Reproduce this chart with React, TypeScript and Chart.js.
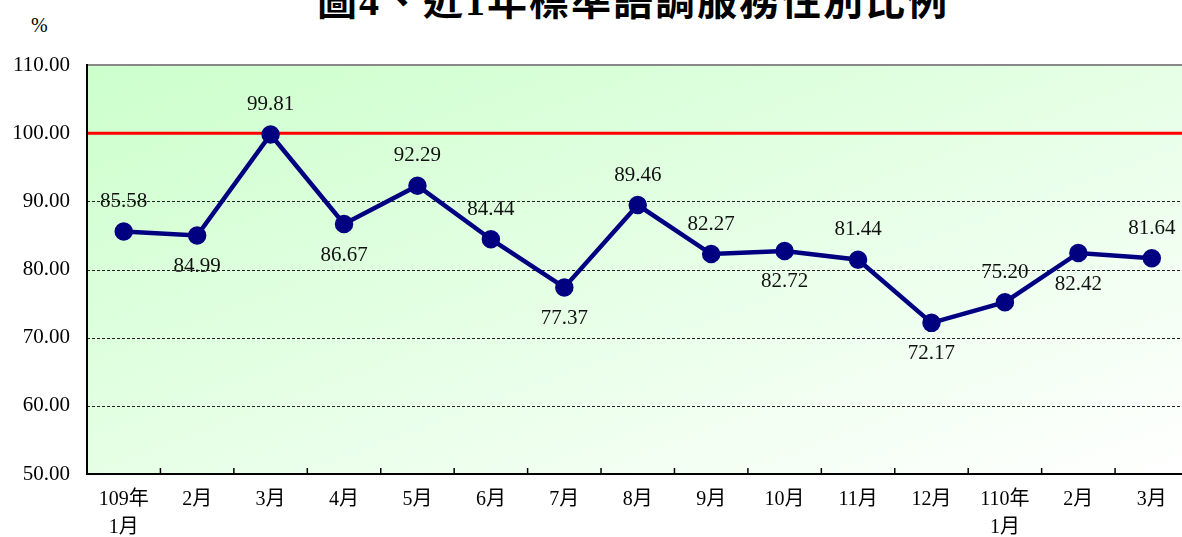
import React, { useEffect, useRef } from "react";
import { Chart, registerables } from "chart.js";

Chart.register(...registerables);

const TITLE = "圖4、近1年標準語調服務性別比例";
const UNIT = "%";
const categories: (string | string[])[] = [
  ["109年", "1月"], "2月", "3月", "4月", "5月", "6月", "7月", "8月",
  "9月", "10月", "11月", "12月", ["110年", "1月"], "2月", "3月",
];
const values = [85.58, 84.99, 99.81, 86.67, 92.29, 84.44, 77.37, 89.46, 82.27, 82.72, 81.44, 72.17, 75.2, 82.42, 81.64];
const labelAbove = [true, false, true, false, true, true, false, true, true, false, true, false, true, false, true];
const dashedLines = [60, 70, 80, 90];
const targetLine = 100;
const yMin = 50;
const yMax = 110;
const yStep = 10;

const FONT = "'Liberation Serif', 'Times New Roman', 'Noto Sans CJK TC', serif";

const decorPlugin = {
  id: "decor",
  beforeDraw(chart: any) {
    const { ctx, chartArea: a } = chart;
    const w = a.right - a.left;
    const h = a.bottom - a.top;
    const t = (2 * w * h) / (w * w + h * h);
    const g = ctx.createLinearGradient(a.left, a.top, a.left + h * t, a.top + w * t);
    g.addColorStop(0, "#ccffcc");
    g.addColorStop(1, "#ffffff");
    ctx.save();
    ctx.fillStyle = g;
    ctx.fillRect(a.left, a.top, w, h);
    ctx.restore();
  },
  beforeDatasetsDraw(chart: any) {
    const { ctx, chartArea: a, scales } = chart;
    const y = scales.y;
    const x = scales.x;
    ctx.save();
    ctx.strokeStyle = "#222";
    ctx.lineWidth = 1;
    ctx.setLineDash([3, 2]);
    dashedLines.forEach((v) => {
      const py = Math.round(y.getPixelForValue(v)) + 0.5;
      ctx.beginPath();
      ctx.moveTo(a.left, py);
      ctx.lineTo(a.right, py);
      ctx.stroke();
    });
    ctx.setLineDash([]);
    ctx.strokeStyle = "#ff0000";
    ctx.lineWidth = 3;
    const ty = y.getPixelForValue(targetLine);
    ctx.beginPath();
    ctx.moveTo(a.left, ty);
    ctx.lineTo(a.right, ty);
    ctx.stroke();
    ctx.strokeStyle = "#888";
    ctx.lineWidth = 2;
    const topY = y.getPixelForValue(yMax);
    ctx.beginPath();
    ctx.moveTo(a.left, topY);
    ctx.lineTo(a.right, topY);
    ctx.stroke();
    ctx.strokeStyle = "#000";
    ctx.lineWidth = 2;
    const botY = y.getPixelForValue(yMin);
    ctx.beginPath();
    ctx.moveTo(a.left, topY - 1);
    ctx.lineTo(a.left, botY);
    ctx.lineTo(a.right, botY);
    ctx.stroke();
    ctx.lineWidth = 1.5;
    for (let i = 0; i < categories.length - 1; i++) {
      const px = (x.getPixelForValue(i) + x.getPixelForValue(i + 1)) / 2;
      ctx.beginPath();
      ctx.moveTo(px, botY);
      ctx.lineTo(px, botY - 6);
      ctx.stroke();
    }
    ctx.restore();
  },
  afterDatasetsDraw(chart: any) {
    const { ctx } = chart;
    const meta = chart.getDatasetMeta(0);
    ctx.save();
    ctx.font = `21px ${FONT}`;
    ctx.fillStyle = "#111";
    ctx.textAlign = "center";
    ctx.textBaseline = "middle";
    meta.data.forEach((pt: any, i: number) => {
      const dy = labelAbove[i] ? -30 : 31;
      ctx.fillText(values[i].toFixed(2), pt.x, pt.y + dy);
    });
    ctx.restore();
  },
};

export default function App() {
  const ref = useRef<HTMLCanvasElement | null>(null);
  useEffect(() => {
    if (!ref.current) return;
    const chart = new Chart(ref.current, {
      type: "line",
      data: {
        labels: categories,
        datasets: [
          {
            data: values,
            borderColor: "#000080",
            backgroundColor: "#000080",
            borderWidth: 4.5,
            pointRadius: 7,
            pointHoverRadius: 7,
            pointBackgroundColor: "#000080",
            pointBorderColor: "#000080",
            tension: 0,
          },
        ],
      },
      options: {
        responsive: false,
        animation: false,
        devicePixelRatio: 1,
        layout: { padding: { top: 65, right: 6, left: 0, bottom: 0 } },
        plugins: { legend: { display: false }, tooltip: { enabled: false }, title: { display: false } },
        scales: {
          x: {
            offset: true,
            grid: { display: false, drawTicks: false },
            border: { display: false },
            ticks: {
              color: "#000",
              font: { family: FONT, size: 20, lineHeight: 1.4 },
              padding: 12,
              maxRotation: 0,
              autoSkip: false,
            },
            afterFit: (s: any) => { s.height = 63; },
          },
          y: {
            min: yMin,
            max: yMax,
            grid: { display: false, drawTicks: false },
            border: { display: false },
            ticks: {
              stepSize: yStep,
              color: "#000",
              font: { family: FONT, size: 21 },
              padding: 17,
              callback: (v: any) => Number(v).toFixed(2),
            },
            afterFit: (s: any) => { s.width = 87; },
          },
        },
      },
      plugins: [decorPlugin],
    });
    return () => chart.destroy();
  }, []);

  return (
    <div style={{ position: "fixed", left: 0, top: 0, width: 1182, height: 537, overflow: "hidden", background: "#fff" }}>
      <div
        style={{
          position: "absolute",
          left: 0,
          width: 1266,
          top: -18,
          textAlign: "center",
          fontFamily: "'Liberation Serif', 'Noto Sans CJK TC', serif",
          fontWeight: "bold",
          fontSize: 40,
          lineHeight: "40px",
          letterSpacing: 2,
          color: "#000",
          whiteSpace: "nowrap",
        }}
      >
        {TITLE}
      </div>
      <div
        style={{
          position: "absolute",
          left: 31,
          top: 13,
          fontFamily: FONT,
          fontSize: 20,
          lineHeight: "24px",
          color: "#000",
        }}
      >
        {UNIT}
      </div>
      <canvas ref={ref} width={1200} height={537} style={{ position: "absolute", left: 0, top: 0 }} />
    </div>
  );
}
